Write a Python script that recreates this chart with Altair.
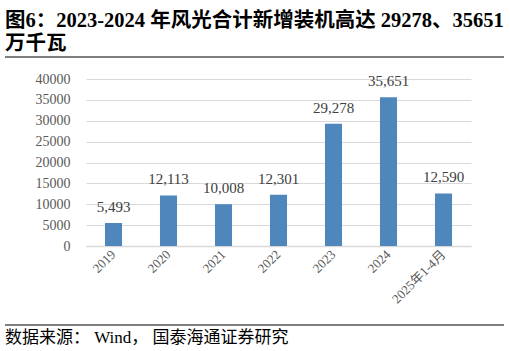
import altair as alt
import pandas as pd

categories = ["2019", "2020", "2021", "2022", "2023", "2024", "2025年1-4月"]
values = [5493, 12113, 10008, 12301, 29278, 35651, 12590]
y_ticks = [0, 5000, 10000, 15000, 20000, 25000, 30000, 35000, 40000]
title_line1 = "图6：2023-2024 年风光合计新增装机高达 29278、35651"
title_line2 = "万千瓦"
source_text = "数据来源： Wind， 国泰海通证券研究"

df = pd.DataFrame({"cat": categories, "val": values})

SERIF = "Liberation Serif, Noto Sans CJK SC"

x_enc = alt.X("cat:N", sort=categories, title=None,
              scale=alt.Scale(paddingInner=0.69, paddingOuter=0.345),
              axis=alt.Axis(labelAngle=-45, labelAlign="right", labelBaseline="middle",
                            labelFont=SERIF, labelFontSize=13, labelColor="#595959",
                            labelPadding=6, ticks=False, domainColor="#d9d9d9", domainWidth=1.5,
                            labelOverlap=False))
y_enc = alt.Y("val:Q", title=None,
              scale=alt.Scale(domain=[0, 40000], nice=False),
              axis=alt.Axis(values=y_ticks, format="d", labelFont=SERIF, labelFontSize=14,
                            labelColor="#595959", labelPadding=16, ticks=False, domain=False,
                            gridColor="#d9d9d9", labelOverlap=False, tickCount=9))

base = alt.Chart(df)
bars = base.mark_bar(color="#4f87bd").encode(x=x_enc, y=y_enc)
labels = base.mark_text(baseline="bottom", dy=-8, font=SERIF, fontSize=15, color="#404040").encode(
    x=x_enc, y=y_enc, text=alt.Text("val:Q", format=","))

def deco_text(s, x, y, size, weight):
    return alt.Chart(pd.DataFrame({"t": [s]})).mark_text(
        align="left", baseline="alphabetic", font=SERIF, fontSize=size, fontWeight=weight,
        color="#000000").encode(x=alt.value(x), y=alt.value(y), text="t:N")

def hrule(y):
    return alt.Chart(pd.DataFrame({"t": [0]})).mark_rule(color="#000000", strokeWidth=1.2).encode(
        x=alt.value(-81), x2=alt.value(418), y=alt.value(y))

t1 = deco_text(title_line1, -81, -52, 20.5, "bold")
t2 = deco_text(title_line2, -81, -29, 20.5, "bold")
src = deco_text(source_text, -81, 264, 17, "normal")

chart = alt.layer(bars, labels, t1, t2, src, hrule(-22), hrule(246)).properties(
    width=385, height=167,
    autosize=alt.AutoSizeParams(type="none"),
    padding={"left": 86, "top": 79, "right": 39, "bottom": 105},
).configure_view(stroke=None)

chart.save("out.html", embed_options={"renderer": "svg", "actions": False})
